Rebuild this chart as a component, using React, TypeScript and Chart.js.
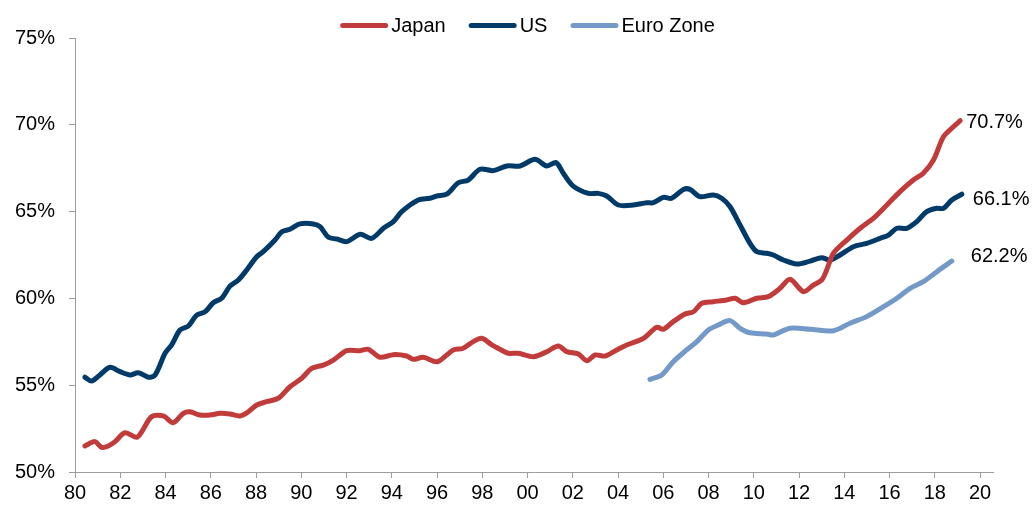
import React, { useEffect, useRef } from 'react';
import { Chart, registerables } from 'chart.js';

Chart.register(...registerables);

const FONT = '"Liberation Sans", Arial, sans-serif';

// ---- Data ----
const seriesNames = ['Japan', 'US', 'Euro Zone'];
const seriesColors = ['#C23B3B', '#003A68', '#7399C9'];
const endLabels = ['70.7%', '66.1%', '62.2%'];

const japanYears = [
  1980.44, 1980.88, 1981.18, 1981.47, 1981.77, 1982.21, 1982.73, 1982.95, 1983.39, 1983.9,
  1984.34, 1984.79, 1985.08, 1985.52, 1985.97, 1986.41, 1986.85, 1987.29, 1987.66, 1988.03,
  1988.47, 1988.99, 1989.5, 1990.02, 1990.46, 1990.97, 1991.42, 1992.01, 1992.6, 1992.96,
  1993.48, 1994.07, 1994.66, 1994.95, 1995.39, 1995.99, 1996.43, 1996.72, 1997.16, 1997.6,
  1997.98, 1998.42, 1998.78, 1999.15, 1999.59, 2000.26, 2000.85, 2001.36, 2001.73, 2002.25,
  2002.62, 2002.98, 2003.43, 2003.94, 2004.38, 2005.12, 2005.71, 2006.0, 2006.44, 2006.96,
  2007.33, 2007.7, 2008.21, 2008.8, 2009.17, 2009.54, 2010.13, 2010.64, 2011.16, 2011.6,
  2012.19, 2012.63, 2013.0, 2013.22, 2013.52, 2014.11, 2014.7, 2015.28, 2015.88, 2016.46,
  2017.05, 2017.49, 2017.94, 2018.38, 2018.82, 2019.12,
];
const japanShare = [
  51.5, 51.75, 51.42, 51.5, 51.75, 52.26, 52.0, 52.32, 53.19, 53.23,
  52.84, 53.38, 53.47, 53.28, 53.28, 53.38, 53.34, 53.23, 53.47, 53.86,
  54.05, 54.25, 54.91, 55.4, 55.97, 56.16, 56.45, 56.99, 56.99, 57.07,
  56.61, 56.76, 56.68, 56.49, 56.61, 56.35, 56.74, 57.03, 57.13, 57.51,
  57.7, 57.32, 57.07, 56.84, 56.84, 56.64, 56.93, 57.26, 56.93, 56.8,
  56.41, 56.74, 56.68, 57.03, 57.32, 57.7, 58.34, 58.22, 58.66, 59.1,
  59.23, 59.72, 59.81, 59.91, 60.01, 59.75, 60.01, 60.1, 60.58, 61.1,
  60.39, 60.77, 61.06, 61.64, 62.6, 63.36, 64.04, 64.61, 65.38, 66.15,
  66.82, 67.21, 67.97, 69.31, 69.89, 70.24,
];

const usYears = [
  1980.44, 1980.74, 1981.1, 1981.55, 1981.99, 1982.43, 1982.8, 1983.24, 1983.54, 1983.98,
  1984.27, 1984.64, 1985.01, 1985.38, 1985.75, 1986.11, 1986.48, 1986.85, 1987.22, 1987.59,
  1988.03, 1988.32, 1988.84, 1989.14, 1989.5, 1989.94, 1990.53, 1990.83, 1991.2, 1991.57,
  1992.01, 1992.6, 1993.11, 1993.63, 1994.07, 1994.44, 1995.17, 1995.69, 1995.99, 1996.43,
  1996.94, 1997.38, 1997.9, 1998.49, 1999.08, 1999.67, 2000.33, 2000.85, 2001.26, 2001.58,
  2002.02, 2002.69, 2003.13, 2003.5, 2004.01, 2004.68, 2005.27, 2005.56, 2006.0, 2006.37,
  2006.89, 2007.18, 2007.62, 2008.21, 2008.58, 2008.95, 2009.39, 2009.83, 2010.13, 2010.57,
  2010.86, 2011.31, 2011.9, 2012.49, 2013.0, 2013.37, 2013.81, 2014.4, 2014.99, 2015.58,
  2015.95, 2016.32, 2016.76, 2017.2, 2017.64, 2018.09, 2018.38, 2018.75, 2019.19,
];
const usShare = [
  55.46, 55.24, 55.59, 56.03, 55.78, 55.59, 55.72, 55.46, 55.59, 56.84,
  57.32, 58.18, 58.41, 59.04, 59.23, 59.75, 60.01, 60.71, 61.06, 61.64,
  62.4, 62.69, 63.36, 63.84, 63.98, 64.29, 64.29, 64.13, 63.52, 63.42,
  63.27, 63.69, 63.46, 64.04, 64.42, 65.0, 65.67, 65.77, 65.9, 66.0,
  66.66, 66.82, 67.44, 67.36, 67.63, 67.63, 68.01, 67.63, 67.82, 67.21,
  66.47, 66.05, 66.05, 65.9, 65.38, 65.38, 65.51, 65.51, 65.82, 65.77,
  66.28, 66.28, 65.86, 65.96, 65.77, 65.28, 64.23, 63.17, 62.69, 62.6,
  62.5, 62.21, 61.98, 62.15, 62.34, 62.21, 62.5, 62.98, 63.17, 63.46,
  63.65, 64.04, 64.04, 64.42, 65.0, 65.19, 65.19, 65.67, 66.0,
];

const euroYears = [
  2005.41, 2005.93, 2006.44, 2007.03, 2007.48, 2007.99, 2008.43, 2008.95, 2009.39, 2009.83,
  2010.57, 2010.86, 2011.6, 2012.49, 2013.52, 2014.25, 2014.99, 2015.73, 2016.32, 2016.91,
  2017.49, 2018.09, 2018.75,
];
const euroShare = [
  55.34, 55.59, 56.35, 57.03, 57.51, 58.18, 58.47, 58.72, 58.28, 58.02,
  57.95, 57.89, 58.28, 58.22, 58.14, 58.57, 58.95, 59.52, 60.01, 60.58,
  60.96, 61.54, 62.15,
];

const xTickYears = [
  1980, 1982, 1984, 1986, 1988, 1990, 1992, 1994, 1996, 1998, 2000,
  2002, 2004, 2006, 2008, 2010, 2012, 2014, 2016, 2018, 2020,
];
const yTickValues = [50, 55, 60, 65, 70, 75];

const toPoints = (xs: number[], ys: number[]) => xs.map((x, i) => ({ x, y: ys[i] }));

const AXIS_GREY = '#9c9c9c';

const topLegend = {
  id: 'topLegend',
  afterDraw(chart: any, _args: any, opts: any) {
    const ctx = chart.ctx as CanvasRenderingContext2D;
    ctx.save();
    ctx.font = `20px ${FONT}`;
    const items = chart.data.datasets.map((ds: any) => ({
      text: ds.label,
      color: ds.borderColor,
      w: ctx.measureText(ds.label).width,
    }));
    const total =
      items.reduce((s: number, it: any) => s + opts.lineLength + opts.gap + it.w, 0) +
      opts.itemGap * (items.length - 1);
    let x = opts.centerX - total / 2;
    items.forEach((it: any) => {
      ctx.strokeStyle = it.color;
      ctx.lineWidth = opts.lineWidth;
      ctx.lineCap = 'round';
      ctx.beginPath();
      ctx.moveTo(x + opts.lineWidth / 2, opts.lineY);
      ctx.lineTo(x + opts.lineLength - opts.lineWidth / 2, opts.lineY);
      ctx.stroke();
      x += opts.lineLength + opts.gap;
      ctx.fillStyle = '#000';
      ctx.textAlign = 'left';
      ctx.textBaseline = 'alphabetic';
      ctx.fillText(it.text, x, opts.textY);
      x += it.w + opts.itemGap;
    });
    ctx.restore();
  },
};

const endValueLabels = {
  id: 'endValueLabels',
  afterDatasetsDraw(chart: any, _args: any, opts: any) {
    const ctx = chart.ctx as CanvasRenderingContext2D;
    ctx.save();
    ctx.font = `20px ${FONT}`;
    ctx.fillStyle = '#000';
    ctx.textAlign = 'left';
    ctx.textBaseline = 'middle';
    chart.data.datasets.forEach((_ds: any, i: number) => {
      const meta = chart.getDatasetMeta(i);
      const last = meta.data[meta.data.length - 1];
      if (!last) return;
      const off = opts.offsets[i];
      ctx.fillText(opts.labels[i], last.x + off[0], last.y + off[1]);
    });
    ctx.restore();
  },
};

export default function App() {
  const canvasRef = useRef<HTMLCanvasElement | null>(null);

  useEffect(() => {
    const canvas = canvasRef.current;
    if (!canvas) return;
    const seriesData = [
      toPoints(japanYears, japanShare),
      toPoints(usYears, usShare),
      toPoints(euroYears, euroShare),
    ];
    const chart = new Chart(canvas, {
      type: 'line',
      data: {
        datasets: seriesNames.map((name, i) => ({
          label: name,
          data: seriesData[i],
          borderColor: seriesColors[i],
          backgroundColor: seriesColors[i],
          borderWidth: 5,
          pointRadius: 0,
          pointHoverRadius: 0,
          tension: 0.3,
          borderCapStyle: 'round',
          borderJoinStyle: 'round',
          fill: false,
        })),
      },
      plugins: [topLegend, endValueLabels],
      options: {
        animation: false,
        responsive: false,
        maintainAspectRatio: false,
        layout: { padding: { top: 38, right: 41, bottom: 0, left: 0 } },
        font: { family: FONT, size: 20 },
        plugins: {
          legend: { display: false },
          tooltip: { enabled: false },
          topLegend: {
            centerX: 527.5,
            lineY: 25.5,
            textY: 32,
            lineLength: 48,
            lineWidth: 5,
            gap: 3,
            itemGap: 23,
          },
          endValueLabels: {
            labels: endLabels,
            offsets: [
              [6, 1.5],
              [11, 5],
              [19, -4.5],
            ],
          },
        } as any,
        scales: {
          x: {
            type: 'linear',
            min: 1980,
            max: 2020.57,
            afterBuildTicks: (scale: any) => {
              scale.ticks = xTickYears.map((v) => ({ value: v }));
            },
            afterFit: (scale: any) => {
              scale.height = 34;
            },
            ticks: {
              autoSkip: false,
              maxRotation: 0,
              minRotation: 0,
              padding: 3,
              color: '#000',
              font: { family: FONT, size: 20 },
              callback: (v: any) => String(Math.round(Number(v)) % 100).padStart(2, '0'),
            },
            grid: {
              drawOnChartArea: false,
              drawTicks: true,
              tickLength: 6,
              color: AXIS_GREY,
              lineWidth: 1,
            },
            border: { display: true, color: AXIS_GREY, width: 1 },
          },
          y: {
            type: 'linear',
            min: 50,
            max: 75,
            afterBuildTicks: (scale: any) => {
              scale.ticks = yTickValues.map((v) => ({ value: v }));
            },
            afterFit: (scale: any) => {
              scale.width = 75;
            },
            ticks: {
              padding: 14,
              color: '#000',
              font: { family: FONT, size: 20 },
              callback: (v: any) => `${v}%`,
            },
            grid: {
              drawOnChartArea: false,
              drawTicks: true,
              tickLength: 6,
              color: AXIS_GREY,
              lineWidth: 1,
            },
            border: { display: true, color: AXIS_GREY, width: 1 },
          },
        },
      } as any,
    });
    return () => chart.destroy();
  }, []);

  return (
    <>
      <style>{`html,body{margin:0;padding:0;background:#fff;overflow:hidden}`}</style>
      <div style={{ width: 1034, height: 506, position: 'relative' }}>
        <canvas ref={canvasRef} width={1034} height={506} style={{ display: 'block', width: 1034, height: 506 }} />
      </div>
    </>
  );
}
